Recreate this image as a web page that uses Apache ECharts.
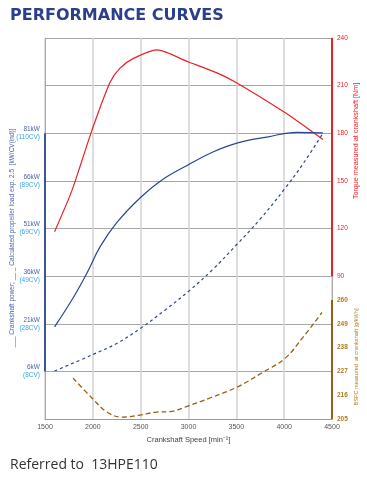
<!DOCTYPE html>
<html><head><meta charset="utf-8">
<script src="https://cdn.jsdelivr.net/npm/echarts@6/dist/echarts.min.js"></script>
<style>html,body{margin:0;padding:0;background:#fff}#c{width:367px;height:478px}</style>
</head><body><div id="c"></div>
<script>
// rpm / value pairs
const torqueRpm = [1600, 1782, 1991, 2179, 2284, 2420, 2670, 2994, 3297, 3506, 4008, 4405];
const torqueNm  = [118, 144, 182, 212, 221, 227, 232.5, 225, 218, 211.7, 193, 176];
const powerRpm  = [1600, 1793, 1939, 2075, 2252, 2493, 2723, 2994, 3255, 3506, 3820, 4134, 4405];
const powerKw   = [20.0, 29.1, 37, 45.2, 52.9, 60.6, 66.3, 71, 75.1, 77.9, 79.8, 81.3, 81.1];
const propRpm   = [1600, 2000, 2250, 2500, 2750, 3000, 3250, 3500, 3750, 4000, 4200, 4405];
const propKw    = [6.1, 11.3, 14.8, 19.6, 25.2, 31.2, 38, 45.8, 54, 63.3, 71.5, 81];
const bsfcRpm   = [1793, 1991, 2148, 2305, 2493, 2670, 2806, 2994, 3224, 3506, 3778, 4008, 4196, 4395];
const bsfcVal   = [223.9, 214.7, 208.2, 205.9, 206.8, 208.2, 208.4, 211, 214.7, 219.7, 226.6, 233, 242.7, 254.2];
const powerTicks = [6, 21, 36, 51, 66, 81];
const cvTicks    = [8, 28, 49, 69, 89, 110];
const torqueTicks = [90, 120, 150, 180, 210, 240];
const bsfcTicks   = [205, 216, 227, 238, 249, 260];

const zip = (a, b) => a.map((x, i) => [x, b[i]]);
const BLUE = '#2c4594', RED = '#ee1c25', BROWN = '#9a5d12', BROWNL = '#b07a22', CYAN = '#35a6e6';
const FONT = '"Liberation Sans", Arial, sans-serif';

const chart = echarts.init(document.getElementById('c'), null, {renderer: 'canvas'});
chart.setOption({
  animation: false,
  backgroundColor: '#fff',
  title: [
    {text: 'PERFORMANCE CURVES', left: 10, top: 8, padding: 0,
     textStyle: {fontFamily: '"DejaVu Sans", sans-serif', fontWeight: 'bold', fontSize: 16, color: '#2b3f8c'}},
    {text: 'Referred to  13HPE110', left: 10, top: 458, padding: 0,
     textStyle: {fontFamily: '"Open Sans", sans-serif', fontWeight: 'normal', fontSize: 14, color: '#333'}}
  ],
  grid: {left: 45, right: 35, top: 38, bottom: 59},
  xAxis: {
    type: 'value', min: 1500, max: 4500, interval: 500,
    axisLine: {onZero: false, lineStyle: {color: '#999', width: 1}},
    axisTick: {show: false},
    axisLabel: {fontSize: 7, color: '#555', fontFamily: FONT, margin: 5, formatter: v => String(v)},
    splitLine: {show: true, lineStyle: {color: '#d2d2d2', width: 1.5}},
    name: 'Crankshaft Speed [min⁻¹]', nameLocation: 'middle', nameGap: 13,
    nameTextStyle: {fontSize: 7.5, color: '#444', fontFamily: FONT}
  },
  yAxis: [
    {
      type: 'value', position: 'left', min: -9, max: 111, interval: 15,
      axisLine: {show: true, lineStyle: {color: '#aaa', width: 1}},
      axisTick: {show: false},
      axisLabel: {
        margin: 5, fontFamily: FONT, lineHeight: 8,
        formatter: v => {
          const i = powerTicks.indexOf(v);
          return i < 0 ? '' : '{kw|' + v + 'kW}\n{cv|(' + cvTicks[i] + 'CV)}';
        },
        rich: {
          kw: {fontSize: 6.5, color: '#4a64a8', fontFamily: FONT, align: 'right', lineHeight: 8},
          cv: {fontSize: 6.5, color: CYAN, fontFamily: FONT, align: 'right', lineHeight: 8}
        }
      },
      splitLine: {show: true, lineStyle: {color: '#a8a8a8', width: 1}}
    },
    {
      type: 'value', position: 'right', min: 0, max: 240, interval: 30,
      axisLine: {show: true, lineStyle: {color: '#aaa', width: 1}},
      axisTick: {show: false},
      axisLabel: {fontSize: 6.5, color: RED, fontFamily: FONT, margin: 5,
        formatter: v => torqueTicks.indexOf(v) < 0 ? '' : String(v)},
      splitLine: {show: false}
    },
    {
      type: 'value', position: 'right', min: 205, max: 381, interval: 11,
      axisLine: {show: false},
      axisTick: {show: false},
      axisLabel: {fontSize: 6.5, color: BROWNL, fontFamily: FONT, margin: 5, fontWeight: 'bold',
        formatter: v => bsfcTicks.indexOf(v) < 0 ? '' : String(v)},
      splitLine: {show: false}
    }
  ],
  graphic: [
    {type: 'text', x: 12, y: 238, rotation: Math.PI / 2,
     style: {text: '___ Crankshaft power; __ _ Calculated propeller load exp. 2.5  [kW/CV(ind)]',
       fill: '#4a64a8', fontSize: 6.5, fontFamily: FONT, align: 'center', verticalAlign: 'middle'}},
    {type: 'text', x: 356, y: 141, rotation: Math.PI / 2,
     style: {text: 'Torque measured at crankshaft [Nm]', fill: RED, fontSize: 7.2, fontFamily: FONT,
       align: 'center', verticalAlign: 'middle'}},
    {type: 'text', x: 356, y: 357, rotation: Math.PI / 2,
     style: {text: 'BSFC measured  at crankshaft [g/kWh]', fill: BROWNL, fontSize: 5.6, fontFamily: FONT,
       align: 'center', verticalAlign: 'middle'}}
  ],
  series: [
    {
      type: 'line', name: 'Torque', yAxisIndex: 1, data: zip(torqueRpm, torqueNm),
      smooth: 0.25, showSymbol: false, clip: false,
      lineStyle: {color: RED, width: 1.2},
      markLine: {silent: true, symbol: 'none', label: {show: false},
        lineStyle: {color: RED, width: 2, type: 'solid'},
        data: [[{coord: [4500, torqueTicks[0]]}, {coord: [4500, torqueTicks[torqueTicks.length - 1]]}]]}
    },
    {
      type: 'line', name: 'Power', yAxisIndex: 0, data: zip(powerRpm, powerKw),
      smooth: 0.4, showSymbol: false, clip: false,
      lineStyle: {color: BLUE, width: 1.2},
      markLine: {silent: true, symbol: 'none', label: {show: false},
        lineStyle: {color: '#3c5596', width: 2, type: 'solid'},
        data: [[{coord: [1500, powerTicks[0]]}, {coord: [1500, powerTicks[powerTicks.length - 1]]}]]}
    },
    {
      type: 'line', name: 'Propeller', yAxisIndex: 0, data: zip(propRpm, propKw),
      smooth: 0.4, showSymbol: false, clip: false,
      lineStyle: {color: BLUE, width: 1.2, type: [3, 3]}
    },
    {
      type: 'line', name: 'BSFC', yAxisIndex: 2, data: zip(bsfcRpm, bsfcVal),
      smooth: 0.4, showSymbol: false, clip: false,
      lineStyle: {color: BROWN, width: 1.3, type: [5, 3]},
      markLine: {silent: true, symbol: 'none', label: {show: false},
        lineStyle: {color: BROWN, width: 2, type: 'solid'},
        data: [[{coord: [4500, bsfcTicks[0]]}, {coord: [4500, bsfcTicks[bsfcTicks.length - 1]]}]]}
    }
  ]
});
</script></body></html>
